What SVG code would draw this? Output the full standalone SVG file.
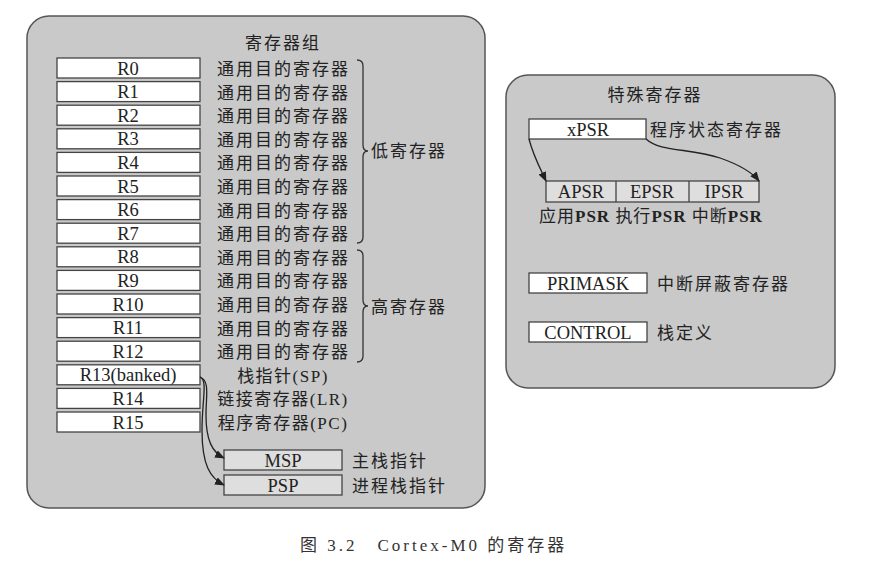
<svg xmlns="http://www.w3.org/2000/svg" width="893" height="573" viewBox="0 0 893 573">
<defs>
<marker id="ah" markerWidth="10" markerHeight="8" refX="9" refY="4" orient="auto" markerUnits="userSpaceOnUse">
<path d="M0,0 L10,4 L0,8 Z" fill="#222"/>
</marker>
<style>
.panel{fill:#c9c9c9;stroke:#555;stroke-width:1.5}
.reg{fill:#fff;stroke:#444;stroke-width:1.3}
.sub{fill:#dedede;stroke:#444;stroke-width:1.3}
text{font-family:"Liberation Serif","Noto Sans CJK SC",serif;fill:#222}
.rn{font-size:18.5px;text-anchor:middle}
.cn{font-size:17px;letter-spacing:2px}
.cnm{font-size:17px;letter-spacing:1.5px;text-anchor:middle}
.ttl{font-size:17px;letter-spacing:2px;text-anchor:middle}
.conn{fill:none;stroke:#222;stroke-width:1.3}
.brace{fill:none;stroke:#333;stroke-width:1.3}
</style>
</defs>
<rect width="893" height="573" fill="#fff"/>

<g id="panel-left">
<rect class="panel" x="27" y="16" width="458" height="492" rx="22"/>
<text class="ttl" x="283" y="49">寄存器组</text>
</g>

<g id="R0"><rect class="reg" x="57" y="58" width="143" height="20"/><text class="rn" x="128" y="74.5">R0</text><text class="cn" x="217" y="75">通用目的寄存器</text></g>
<g id="R1"><rect class="reg" x="57" y="81.6" width="143" height="20"/><text class="rn" x="128" y="98.1">R1</text><text class="cn" x="217" y="98.6">通用目的寄存器</text></g>
<g id="R2"><rect class="reg" x="57" y="105.2" width="143" height="20"/><text class="rn" x="128" y="121.7">R2</text><text class="cn" x="217" y="122.2">通用目的寄存器</text></g>
<g id="R3"><rect class="reg" x="57" y="128.8" width="143" height="20"/><text class="rn" x="128" y="145.3">R3</text><text class="cn" x="217" y="145.8">通用目的寄存器</text></g>
<g id="R4"><rect class="reg" x="57" y="152.4" width="143" height="20"/><text class="rn" x="128" y="168.9">R4</text><text class="cn" x="217" y="169.4">通用目的寄存器</text></g>
<g id="R5"><rect class="reg" x="57" y="176" width="143" height="20"/><text class="rn" x="128" y="192.5">R5</text><text class="cn" x="217" y="193">通用目的寄存器</text></g>
<g id="R6"><rect class="reg" x="57" y="199.6" width="143" height="20"/><text class="rn" x="128" y="216.1">R6</text><text class="cn" x="217" y="216.6">通用目的寄存器</text></g>
<g id="R7"><rect class="reg" x="57" y="223.2" width="143" height="20"/><text class="rn" x="128" y="239.7">R7</text><text class="cn" x="217" y="240.2">通用目的寄存器</text></g>
<g id="R8"><rect class="reg" x="57" y="246.8" width="143" height="20"/><text class="rn" x="128" y="263.3">R8</text><text class="cn" x="217" y="263.8">通用目的寄存器</text></g>
<g id="R9"><rect class="reg" x="57" y="270.4" width="143" height="20"/><text class="rn" x="128" y="286.9">R9</text><text class="cn" x="217" y="287.4">通用目的寄存器</text></g>
<g id="R10"><rect class="reg" x="57" y="294" width="143" height="20"/><text class="rn" x="128" y="310.5">R10</text><text class="cn" x="217" y="311">通用目的寄存器</text></g>
<g id="R11"><rect class="reg" x="57" y="317.6" width="143" height="20"/><text class="rn" x="128" y="334.1">R11</text><text class="cn" x="217" y="334.6">通用目的寄存器</text></g>
<g id="R12"><rect class="reg" x="57" y="341.2" width="143" height="20"/><text class="rn" x="128" y="357.7">R12</text><text class="cn" x="217" y="358.2">通用目的寄存器</text></g>
<g id="R13"><rect class="reg" x="57" y="364.8" width="143" height="20"/><text class="rn" x="128" y="381.3">R13(banked)</text><text class="cnm" x="283" y="381.8">栈指针(SP)</text></g>
<g id="R14"><rect class="reg" x="57" y="388.4" width="143" height="20"/><text class="rn" x="128" y="404.9">R14</text><text class="cnm" x="283" y="405.4">链接寄存器(LR)</text></g>
<g id="R15"><rect class="reg" x="57" y="412" width="143" height="20"/><text class="rn" x="128" y="428.5">R15</text><text class="cnm" x="283" y="429">程序寄存器(PC)</text></g>

<g id="low-group">
<path class="brace" d="M357,60 Q363,60 363,66 L363,145 Q363,151 368,151 Q363,151 363,157 L363,237 Q363,243 357,243"/>
<text class="cn" x="371" y="157">低寄存器</text>
</g>
<g id="high-group">
<path class="brace" d="M357,250 Q363,250 363,256 L363,300 Q363,306 368,306 Q363,306 363,312 L363,356 Q363,362 357,362"/>
<text class="cn" x="371" y="313">高寄存器</text>
</g>

<g id="MSP"><rect class="sub" x="224" y="450" width="118" height="20"/><text class="rn" x="283" y="466.5">MSP</text><text class="cn" x="352" y="467">主栈指针</text></g>
<g id="PSP"><rect class="sub" x="224" y="475" width="118" height="20"/><text class="rn" x="283" y="491.5">PSP</text><text class="cn" x="352" y="492">进程栈指针</text></g>

<g id="panel-right">
<rect class="panel" x="506" y="75" width="329" height="313" rx="22"/>
<text class="ttl" x="655" y="101">特殊寄存器</text>
</g>
<g id="xPSR"><rect class="reg" x="529" y="119" width="117" height="20"/><text class="rn" x="588" y="135.5">xPSR</text><text class="cn" x="650" y="136">程序状态寄存器</text></g>
<g id="PSR-split">
<rect class="sub" x="546" y="181" width="213" height="21"/>
<line x1="616" y1="181" x2="616" y2="202" stroke="#444" stroke-width="1.3"/>
<line x1="689" y1="181" x2="689" y2="202" stroke="#444" stroke-width="1.3"/>
<text class="rn" x="581" y="198">APSR</text>
<text class="rn" x="652" y="198">EPSR</text>
<text class="rn" x="724" y="198">IPSR</text>
<text x="539" y="222" style="font-size:17px;letter-spacing:1px">应用<tspan font-weight="bold">PSR</tspan> 执行<tspan font-weight="bold">PSR</tspan> 中断<tspan font-weight="bold">PSR</tspan></text>
</g>
<g id="PRIMASK"><rect class="reg" x="529" y="273" width="118" height="20"/><text class="rn" x="588" y="289.5">PRIMASK</text><text class="cn" x="657" y="290">中断屏蔽寄存器</text></g>
<g id="CONTROL"><rect class="reg" x="529" y="322" width="118" height="20"/><text class="rn" x="588" y="338.5">CONTROL</text><text class="cn" x="657" y="339">栈定义</text></g>

<g id="connectors">
<path class="conn" marker-end="url(#ah)" d="M200,377 C210,381 206,395 206,415 C206,440 212,452 224,458"/>
<path class="conn" marker-end="url(#ah)" d="M200,377 C208,380 202,400 202,430 C202,465 210,478 224,485"/>
<path class="conn" marker-end="url(#ah)" d="M529,139 C533,155 540,168 546,181"/>
<path class="conn" marker-end="url(#ah)" d="M646,139 C660,152 690,148 720,158 C740,165 752,172 759,181"/>
</g>

<g id="caption">
<text x="300" y="551" style="font-size:17px;letter-spacing:3px;fill:#333">图 3.2　Cortex-M0 的寄存器</text>
</g>
</svg>
